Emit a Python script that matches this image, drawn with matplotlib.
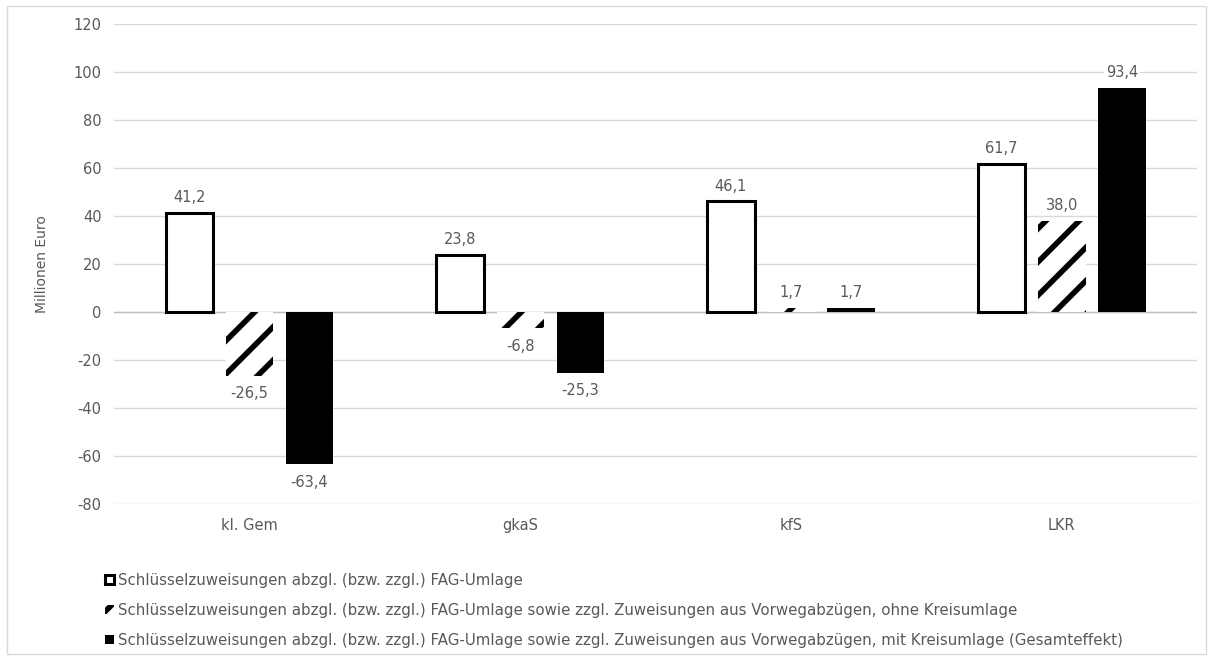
import matplotlib.pyplot as plt
import numpy as np
from matplotlib.patches import Rectangle, Patch

categories = ["kl. Gem", "gkaS", "kfS", "LKR"]
fag_umlage = [41.2, 23.8, 46.1, 61.7]
ohne_kreisumlage = [-26.5, -6.8, 1.7, 38.0]
mit_kreisumlage = [-63.4, -25.3, 1.7, 93.4]
series_labels = [
    "Schlüsselzuweisungen abzgl. (bzw. zzgl.) FAG-Umlage",
    "Schlüsselzuweisungen abzgl. (bzw. zzgl.) FAG-Umlage sowie zzgl. Zuweisungen aus Vorwegabzügen, ohne Kreisumlage",
    "Schlüsselzuweisungen abzgl. (bzw. zzgl.) FAG-Umlage sowie zzgl. Zuweisungen aus Vorwegabzügen, mit Kreisumlage (Gesamteffekt)",
]

plt.rcParams['font.family'] = ['DejaVu Sans']
plt.rcParams['axes.unicode_minus'] = False
plt.rcParams['hatch.linewidth'] = 4.0
grey = "#595959"

fig = plt.figure(figsize=(12.13, 6.6), dpi=100)
ax = fig.add_axes([0.094, 0.2364, 0.893, 0.7272])

x = np.arange(len(categories))
w = 0.175
step = 0.222

b1 = ax.bar(x - step, fag_umlage, w, facecolor="white", edgecolor="black", linewidth=2.2, zorder=3)
b2 = ax.bar(x, ohne_kreisumlage, w, facecolor="white", edgecolor="black", hatch="/", linewidth=0, zorder=3)
b3 = ax.bar(x + step, mit_kreisumlage, w, facecolor="black", edgecolor="black", linewidth=0, zorder=3)

def fmt(v):
    return f"{v:.1f}".replace(".", ",")

for bars, vals in [(b1, fag_umlage), (b2, ohne_kreisumlage), (b3, mit_kreisumlage)]:
    for bar, v in zip(bars, vals):
        off = 11 if v >= 0 else -13
        ax.annotate(fmt(v), (bar.get_x() + bar.get_width() / 2, v),
                    xytext=(0, off), textcoords="offset points",
                    ha="center", va="center", fontsize=10.5, color=grey, zorder=4,
                    bbox=dict(boxstyle="square,pad=0.1", facecolor="white", edgecolor="none"))

ax.set_ylim(-80, 120)
ax.set_yticks(range(-80, 121, 20))
ax.set_xlim(-0.5, 3.5)
ax.set_xticks(x)
ax.set_xticklabels(categories)
ax.tick_params(length=0, colors=grey, labelsize=10.5)
ax.tick_params(axis="x", pad=10)
ax.tick_params(axis="y", pad=9)
ax.grid(axis="y", color="#d9d9d9", linewidth=1, zorder=0)
ax.axhline(0, color="#bfbfbf", linewidth=1, zorder=2)
for s in ax.spines.values():
    s.set_visible(False)
ax.set_ylabel("Millionen Euro", color=grey, fontsize=10, labelpad=18)

# legend proxy for the hatched series, so a bit of stripe shows in the small box
hatch_proxy = Patch(facecolor="white", edgecolor="black", hatch="//", linewidth=0)
leg = fig.legend([b1[0], hatch_proxy, b3[0]], series_labels, loc="upper left",
                 bbox_to_anchor=(0.0815, 0.141), frameon=False, fontsize=10.8,
                 labelcolor=grey, handlelength=0.6, handleheight=0.6,
                 handletextpad=0.3, labelspacing=1.0, borderaxespad=0)

fig.patches.append(Rectangle((0.006, 0.009), 0.988, 0.982, transform=fig.transFigure,
                             fill=False, edgecolor="#d9d9d9", linewidth=1))

fig.savefig("out.png", dpi=100)
